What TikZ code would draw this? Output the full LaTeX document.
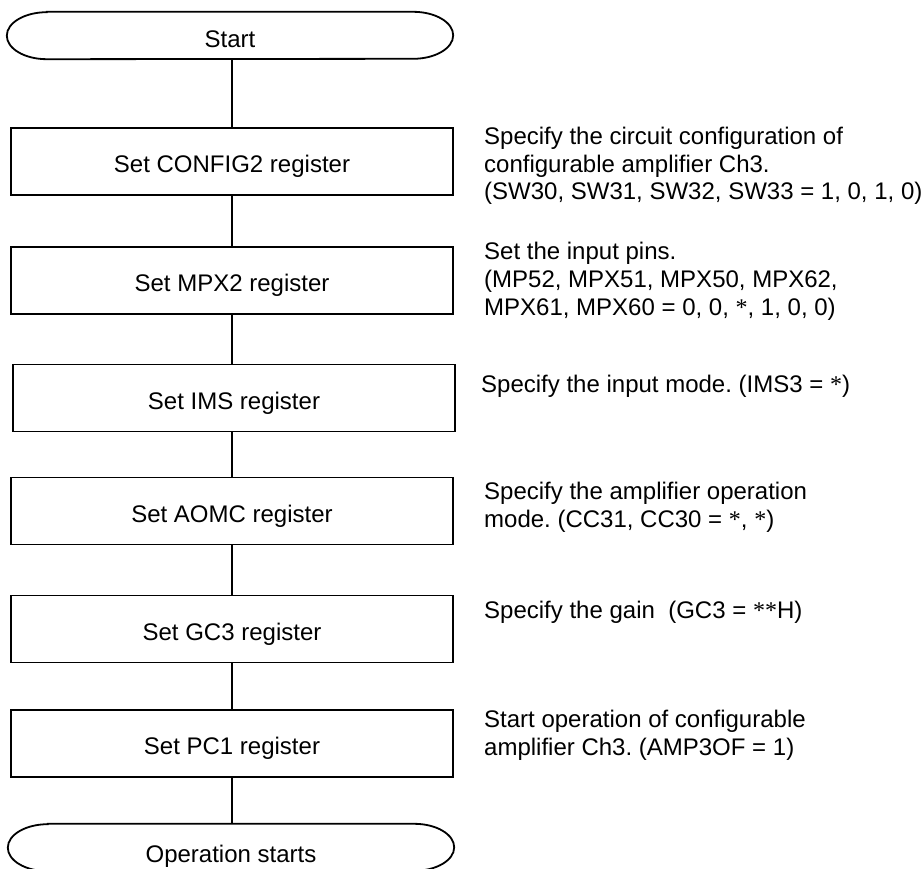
\documentclass[tikz,border=0pt]{standalone}
\usepackage{fontspec}
\setmainfont{Liberation Sans}
\newfontfamily\serifast{Liberation Serif}
\newcommand\starmark{{\serifast *}}
\frenchspacing
\begin{document}
\begin{tikzpicture}[x=1pt,y=-1pt,
  every node/.style={font=\fontsize{24}{27.5}\selectfont},
  line/.style={line width=1.8pt},
  stepbox/.style={draw,line width=1.8pt,minimum width=442pt,minimum height=67pt,
                  text height=28pt,text depth=6pt,inner sep=0pt},
  terminal/.style={minimum width=446pt,minimum height=47pt,inner sep=0pt},
  note/.style={anchor=base west,align=left,inner sep=0pt}]
\useasboundingbox (0,0) rectangle (924,869);

% start and end terminals (outline drawn below)
\node[terminal,text height=30pt,text depth=5pt] (start) at (230,35.5) {Start};
\node[terminal,text height=33pt,text depth=4pt] (stop) at (231,847.5) {Operation starts};

\foreach \t in {start,stop}{
  \draw[line] ([xshift=40pt]\t.north west) -- ([xshift=-40pt]\t.north east)
    arc[start angle=90,end angle=-90,x radius=40pt,y radius=23.5pt]
    -- ([xshift=40pt]\t.south west)
    arc[start angle=270,end angle=90,x radius=40pt,y radius=23.5pt] -- cycle;
}

% register setting steps
\node[stepbox] (config) at (232,161.5) {Set CONFIG2 register};
\node[stepbox] (mpx)    at (232,280.5) {Set MPX2 register};
\node[stepbox] (ims)    at (234,398)   {Set IMS register};
\node[stepbox] (aomc)   at (232,511)   {Set AOMC register};
\node[stepbox] (gc)     at (232,629)   {Set GC3 register};
\node[stepbox] (pc)     at (232,743.5) {Set PC1 register};

% vertical flow line
\coordinate (axis) at (232,0);
\draw[line] (axis |- start.south) -- (config.north);
\draw[line] (config.south) -- (mpx.north);
\draw[line] (mpx.south) -- (mpx.south |- ims.north);
\draw[line] (mpx.south |- ims.south) -- (aomc.north);
\draw[line] (aomc.south) -- (gc.north);
\draw[line] (gc.south) -- (pc.north);
\draw[line] (pc.south) -- (pc.south |- stop.north);

% explanations beside each step (placed by the baseline of their last line)
\node[note] (n1) at (484,200) {Specify the circuit configuration of\\configurable amplifier Ch3.\\(SW30, SW31, SW32, SW33 = 1, 0, 1, 0)};
\node[note] (n2) at (484,315) {Set the input pins.\\(MP52, MPX51, MPX50, MPX62,\\MPX61, MPX60 = 0, 0, \starmark, 1, 0, 0)};
\node[note] (n3) at (481,392) {Specify the input mode. (IMS3 = \starmark)};
\node[note] (n4) at (484,527) {Specify the amplifier operation\\mode. (CC31, CC30 = \starmark, \starmark)};
\node[note] (n5) at (484,618) {Specify the gain\ \ (GC3 = \starmark\starmark H)};
\node[note] (n6) at (484,755) {Start operation of configurable\\amplifier Ch3. (AMP3OF = 1)};
\end{tikzpicture}
\end{document}
